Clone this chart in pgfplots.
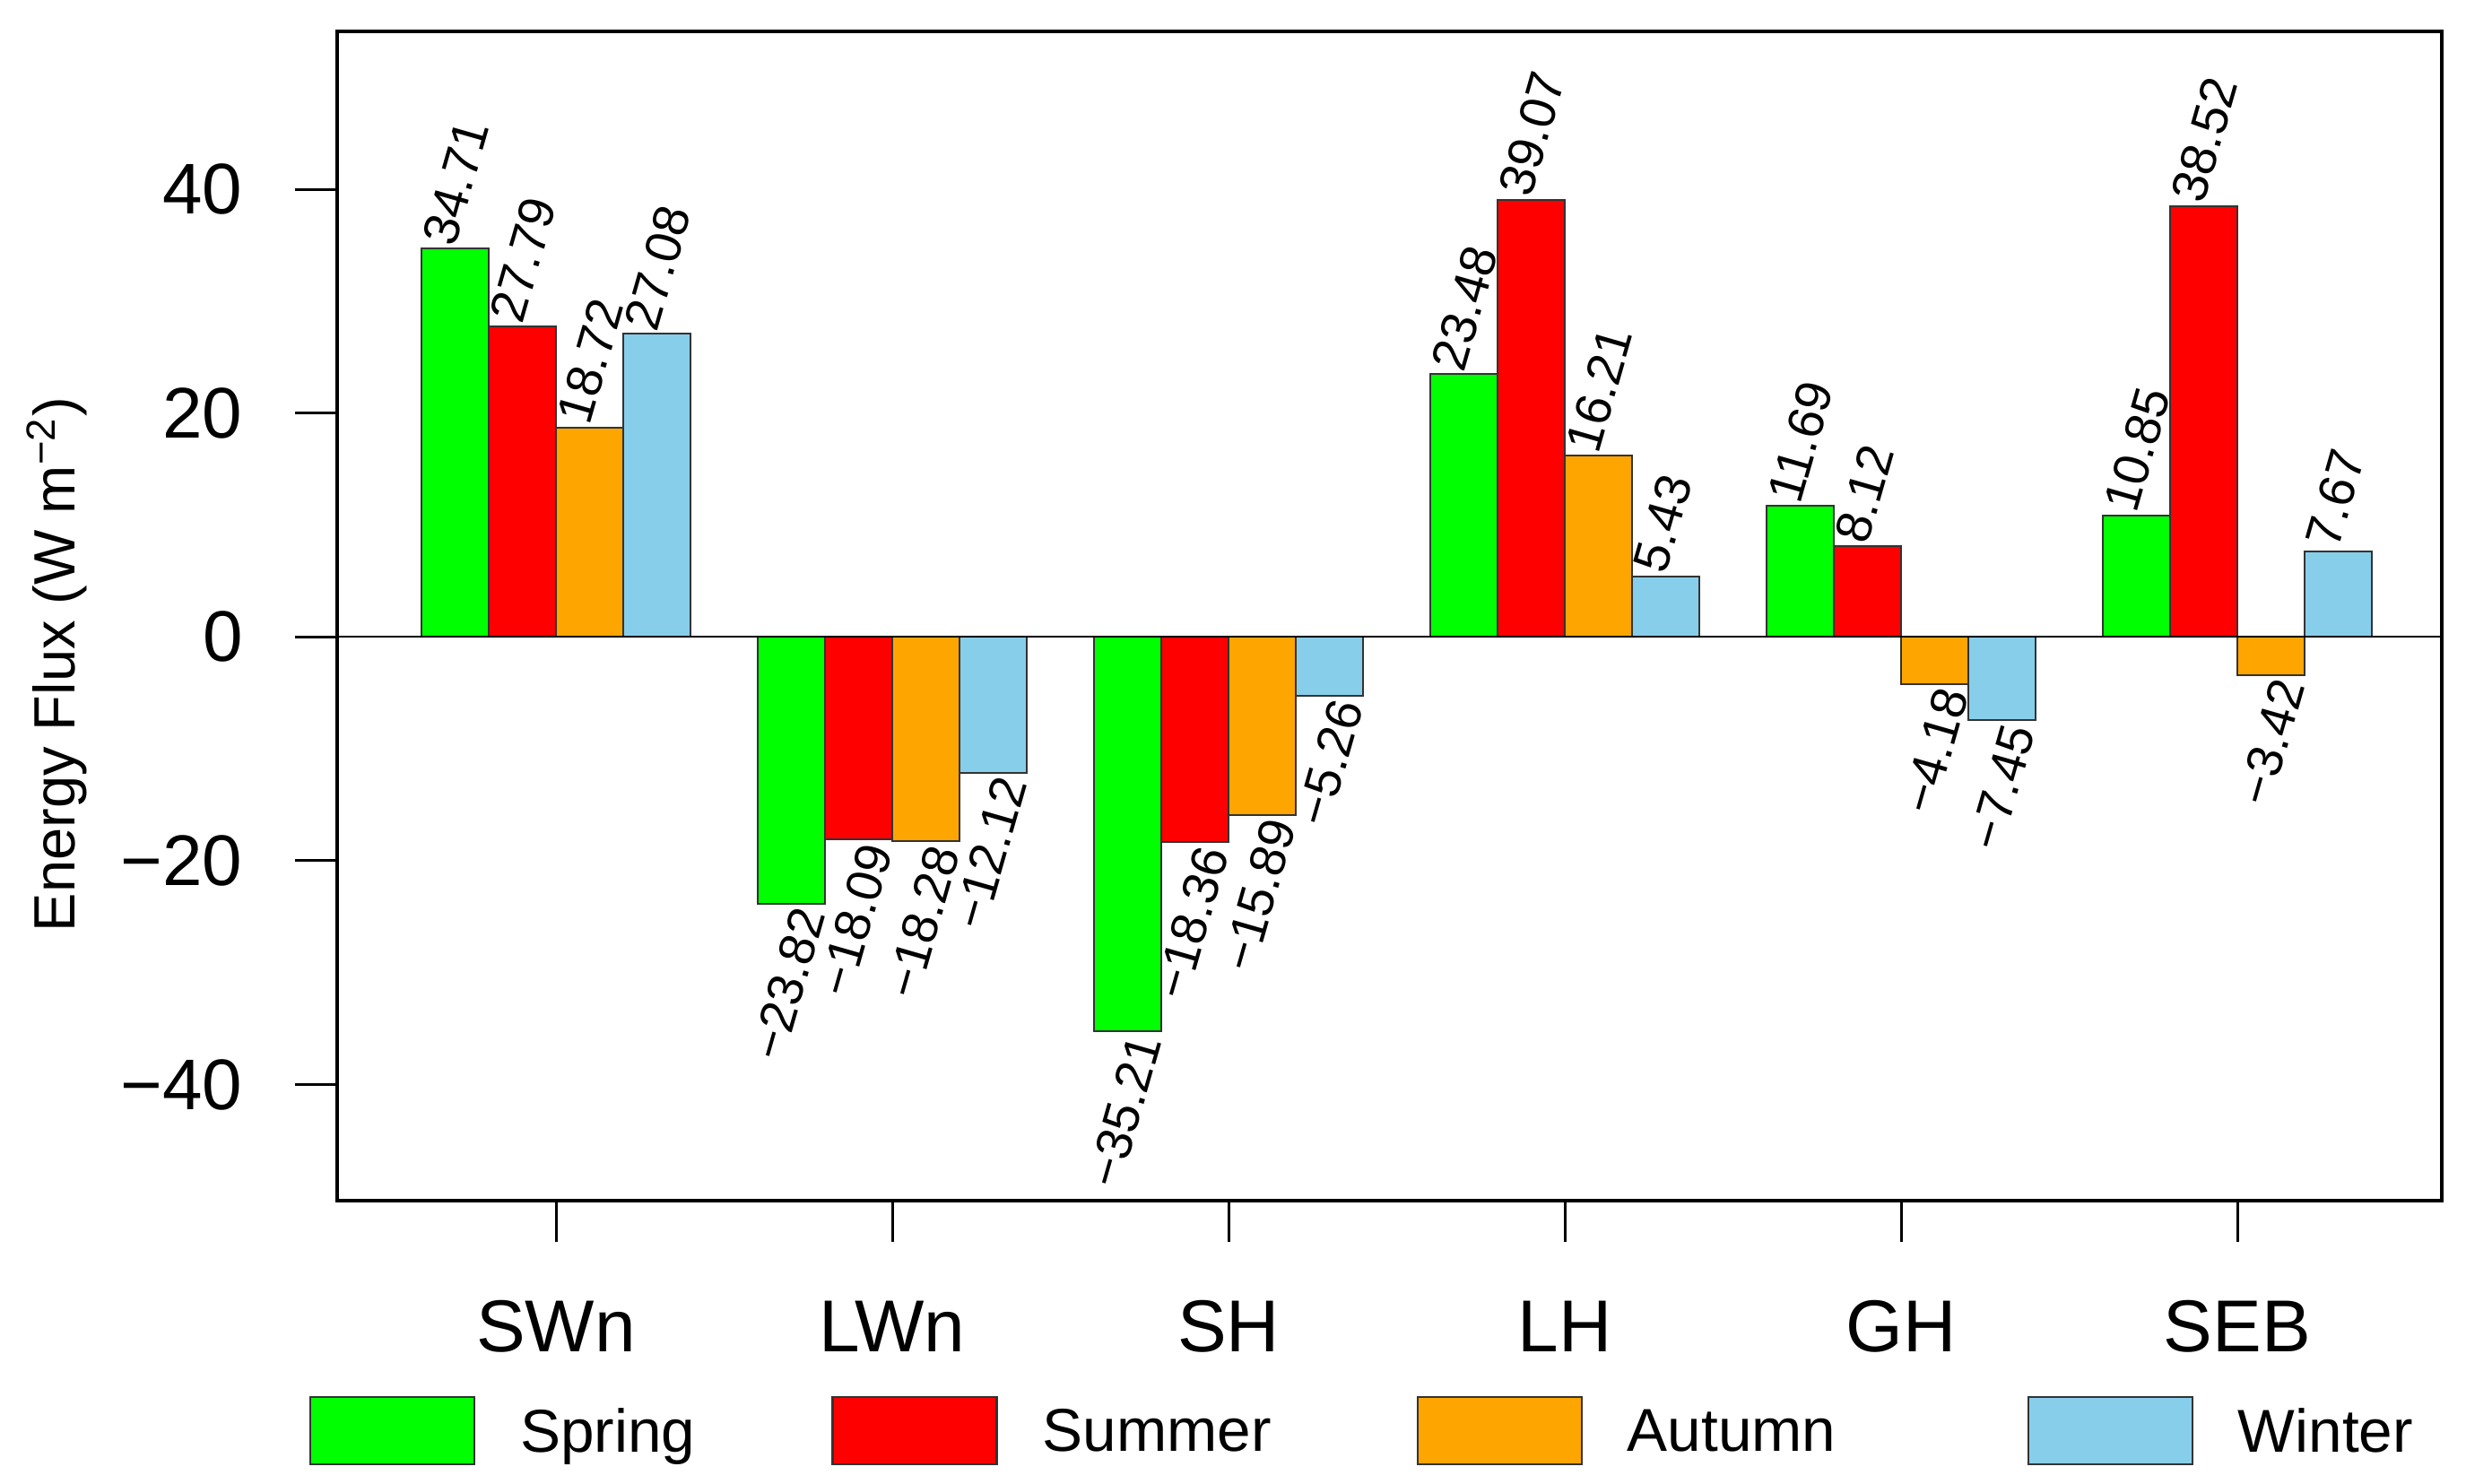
\documentclass[border=0pt]{standalone}
\usepackage{fontspec}
\setmainfont{Liberation Sans}
\usepackage{pgfplots}
\pgfplotsset{compat=1.18}
\definecolor{cSpring}{HTML}{00FF00}
\definecolor{cSummer}{HTML}{FF0000}
\definecolor{cAutumn}{HTML}{FFA500}
\definecolor{cWinter}{HTML}{87CEEB}
\pgfplotsset{
  myleg/.style={legend image code/.code={\draw[##1, line width=0.45pt] (0pt,-6.77pt) rectangle (36.6pt,8.23pt);}},
  barlab/.style={
    point meta=explicit symbolic,
    visualization depends on={rawy \as \rawy},
    nodes near coords,
    every node near coord/.append style={font=\fontsize{11.2}{13}\selectfont, inner sep=0pt, rotate=74,
       /utils/exec={\ifdim\rawy pt<0pt\def\myanc{north east}\else\def\myanc{base west}\fi}, anchor=\myanc},
  },
}
\begin{document}
\begin{tikzpicture}[x=1pt,y=1pt]
\begin{axis}[
  at={(75.2pt,63.2pt)}, anchor=south west,
  scale only axis, width=469.4pt, height=260.84pt,
  xmin=-0.6507, xmax=5.608, ymin=-50.37, ymax=54.13,
  axis line style={line width=0.75pt},
  tick align=outside, major tick length=9.3pt,
  every tick/.style={black, line width=0.6pt},
  tick pos=left,
  xtick={0,...,5}, xticklabels={SWn,LWn,SH,LH,GH,SEB},
  ytick={-40,-20,0,20,40}, yticklabels={−40,−20,0,20,40},
  yticklabel style={font=\fontsize{16}{19}\selectfont, anchor=east, inner sep=0pt, xshift=-11.6pt},
  xticklabel style={font=\fontsize{16.4}{19}\selectfont, anchor=base, inner sep=0pt, yshift=-24.5pt},
  ylabel={Energy Flux (W m\textsuperscript{−2})},
  every axis y label/.style={at={(axis description cs:-0.1248,0.4585)}, rotate=90, anchor=base, font=\fontsize{13}{15}\selectfont, inner sep=0pt},
  ybar, bar width=0.2,
  legend columns=4, legend cell align=left,
  legend style={at={(axis description cs:-0.01363,-0.19667)}, anchor=west, draw=none, fill=none,
     inner sep=0pt, column sep=0pt, font=\fontsize{13.5}{16}\selectfont, nodes={inner sep=0pt}},
]
\addplot[ybar, bar shift=-0.3, fill=cSpring, draw=black!80, line width=0.4pt, myleg, barlab] coordinates
  {(0,34.71) [34.71] (1,-23.82) [−23.82] (2,-35.21) [−35.21] (3,23.48) [23.48] (4,11.69) [11.69] (5,10.85) [10.85]};
\addlegendentry{\hspace*{10pt}\makebox[69.4pt][l]{Spring}}
\addplot[ybar, bar shift=-0.1, fill=cSummer, draw=black!80, line width=0.4pt, myleg, barlab] coordinates
  {(0,27.79) [27.79] (1,-18.09) [−18.09] (2,-18.36) [−18.36] (3,39.07) [39.07] (4,8.12) [8.12] (5,38.52) [38.52]};
\addlegendentry{\hspace*{10pt}\makebox[83.4pt][l]{Summer}}
\addplot[ybar, bar shift=0.1, fill=cAutumn, draw=black!80, line width=0.4pt, myleg, barlab] coordinates
  {(0,18.72) [18.72] (1,-18.28) [−18.28] (2,-15.89) [−15.89] (3,16.21) [16.21] (4,-4.18) [−4.18] (5,-3.42) [−3.42]};
\addlegendentry{\hspace*{10pt}\makebox[89.2pt][l]{Autumn}}
\addplot[ybar, bar shift=0.3, fill=cWinter, draw=black!80, line width=0.4pt, myleg, barlab] coordinates
  {(0,27.08) [27.08] (1,-12.12) [−12.12] (2,-5.26) [−5.26] (3,5.43) [5.43] (4,-7.45) [−7.45] (5,7.67) [7.67]};
\addlegendentry{\hspace*{10pt}Winter}
\draw[black, line width=0.4pt] (axis cs:-0.6507,0) -- (axis cs:5.608,0);
\end{axis}
\pgfresetboundingbox
\path[use as bounding box] (0,0) rectangle (550,331);
\end{tikzpicture}
\end{document}
